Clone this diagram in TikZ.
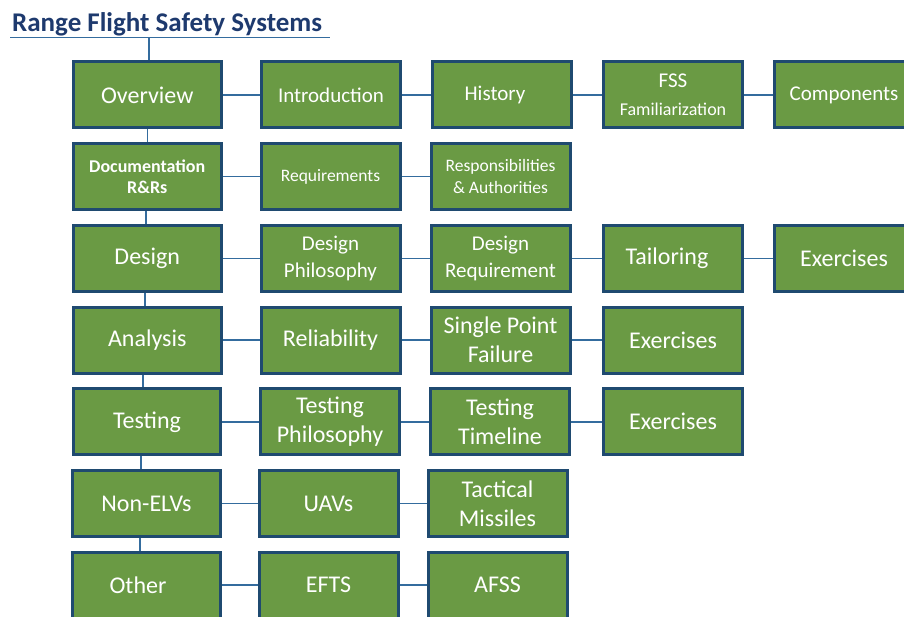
\documentclass[tikz,border=0pt]{standalone}
\usepackage{fontspec}
\setmainfont{Carlito}
\definecolor{boxgreen}{RGB}{106,154,68}
\definecolor{boxborder}{RGB}{31,74,112}
\definecolor{linkblue}{RGB}{52,108,158}
\definecolor{titleblue}{RGB}{30,58,110}
\newcommand\fszA{\fontsize{24}{29}\selectfont}
\newcommand\fszB{\fontsize{21}{27}\selectfont}
\newcommand\fszC{\fontsize{17.5}{22}\selectfont}
\tikzset{
  box/.style={draw=boxborder, line width=3pt, fill=boxgreen, text=white,
    minimum width=139pt, minimum height=66pt, inner sep=0pt, align=center, font=\fszA},
  wide/.style={minimum width=147.5pt},
  link/.style={draw=linkblue, line width=1.6pt},
}
\begin{document}
\begin{tikzpicture}[x=1pt,y=-1pt]
\useasboundingbox (0,0) rectangle (904,617);
\clip (0,0) rectangle (904,617);
% title
\node[anchor=base west, inner sep=0pt, text=titleblue, font=\fontsize{27}{32}\selectfont\bfseries] (title) at (12,31.5) {Range Flight Safety Systems};
\coordinate (ulA) at (10,37.5);
\coordinate (ulB) at (330,37.5);
\coordinate (ulC) at (149,37.5);
\draw[link] (ulA) -- (ulB);
% row 1
\node[box,wide] (ov) at (147.25,95) {Overview};
\node[box,font=\fszB] (intro) at (331,95) {Introduction};
\node[box,font=\fszB] (hist) at (502,95) {History\hspace*{14pt}};
\node[box] (fss) at (673,95) {\fontsize{21}{22}\selectfont FSS\\[-1pt]\fontsize{18}{22}\selectfont Familiarization};
\node[box,font=\fszB] (comp) at (844,95) {Components};
% row 2
\node[box,wide,font=\fontsize{18}{21.5}\selectfont\bfseries] (doc) at (147.25,176.7) {Documentation\\R\&Rs};
\node[box,font=\fszC] (req) at (330.5,176.7) {Requirements};
\node[box,font=\fszC] (resp) at (500.5,176.7) {Responsibilities\\\& Authorities};
% row 3
\node[box,wide] (des) at (147.25,258.4) {Design};
\node[box,font=\fszB] (desphil) at (330.5,258.4) {Design\\Philosophy};
\node[box,font=\fszB] (desreq) at (500.5,258.4) {Design\\Requirement};
\node[box] (tail) at (673,258.4) {Tailoring\hspace*{12pt}};
\node[box] (exA) at (844,258.4) {Exercises};
% row 4
\node[box,wide] (ana) at (147.25,340.1) {Analysis};
\node[box] (rel) at (330.5,340.1) {Reliability};
\node[box] (spf) at (500.5,340.1) {Single Point\\Failure};
\node[box] (exB) at (673,340.1) {Exercises};
% row 5
\node[box,wide] (tst) at (147,421.8) {Testing};
\node[box] (tstphil) at (330,421.8) {Testing\\Philosophy};
\node[box] (tsttime) at (500,421.8) {Testing\\Timeline};
\node[box] (exC) at (673,421.8) {Exercises};
% row 6
\node[box,wide] (nonelv) at (146.5,503.5) {Non-ELVs};
\node[box] (uav) at (328.5,503.5) {UAVs};
\node[box] (tact) at (497.5,503.5) {Tactical\\Missiles};
% row 7
\node[box,wide] (oth) at (146.5,585.2) {Other\hspace*{17pt}};
\node[box] (efts) at (328.5,585.2) {EFTS};
\node[box] (afss) at (497.5,585.2) {AFSS};
% vertical trunk (each segment vertical)
\draw[link] (ulC) -- (ulC |- ov.north);
\draw[link] ([xshift=0.25pt]ov.south) -- ([xshift=0.25pt]ov.south |- doc.north);
\draw[link] ([xshift=-1.25pt]doc.south) -- ([xshift=-1.25pt]doc.south |- des.north);
\draw[link] ([xshift=-2.25pt]des.south) -- ([xshift=-2.25pt]des.south |- ana.north);
\draw[link] ([xshift=-4.25pt]ana.south) -- ([xshift=-4.25pt]ana.south |- tst.north);
\draw[link] ([xshift=-6pt]tst.south) -- ([xshift=-6pt]tst.south |- nonelv.north);
\draw[link] ([xshift=-6.5pt]nonelv.south) -- ([xshift=-6.5pt]nonelv.south |- oth.north);
% horizontal links
\draw[link] (ov) -- (intro) (intro) -- (hist) (hist) -- (fss) (fss) -- (comp);
\draw[link] (doc) -- (req) (req) -- (resp);
\draw[link] (des) -- (desphil) (desphil) -- (desreq) (desreq) -- (tail) (tail) -- (exA);
\draw[link] (ana) -- (rel) (rel) -- (spf) (spf) -- (exB);
\draw[link] (tst) -- (tstphil) (tstphil) -- (tsttime) (tsttime) -- (exC);
\draw[link] (nonelv) -- (uav) (uav) -- (tact);
\draw[link] (oth) -- (efts) (efts) -- (afss);
\end{tikzpicture}
\end{document}
